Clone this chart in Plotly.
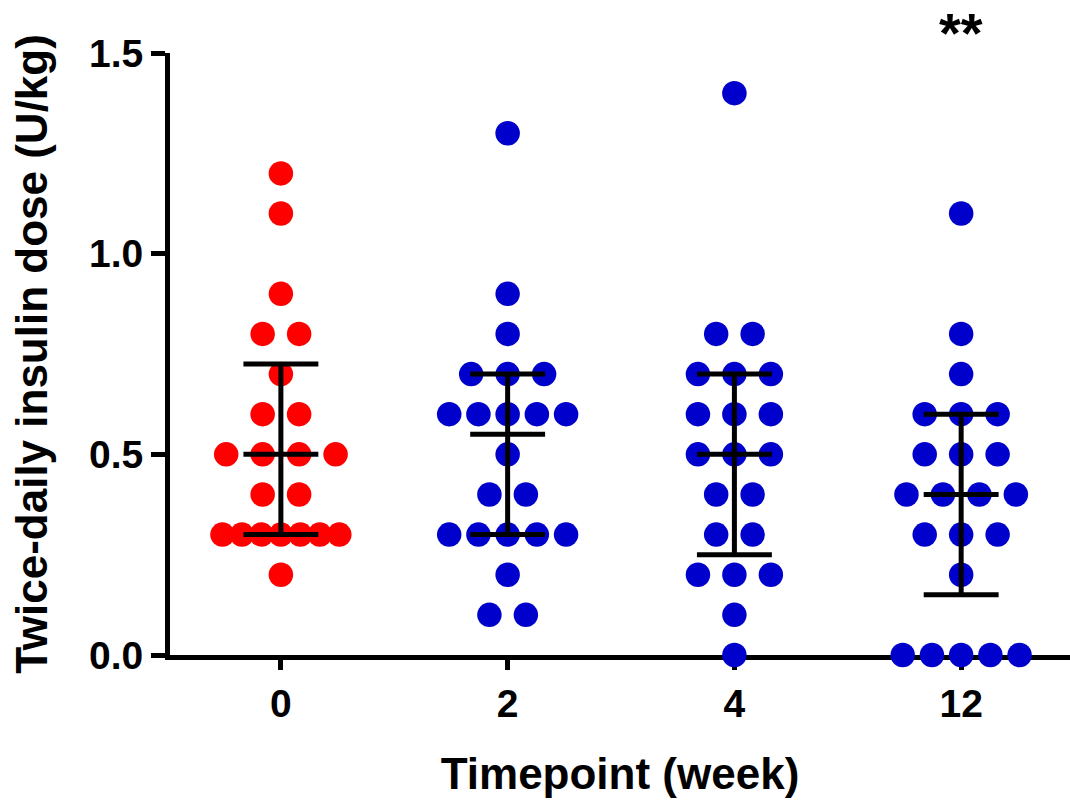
import plotly.graph_objects as go
from collections import Counter

categories = ["0", "2", "4", "12"]
week0 = [1.2, 1.1, 0.9, 0.8, 0.8, 0.7, 0.6, 0.6, 0.5, 0.5, 0.5, 0.5, 0.4, 0.4,
         0.3, 0.3, 0.3, 0.3, 0.3, 0.3, 0.3, 0.2]
week2 = [1.3, 0.9, 0.8, 0.7, 0.7, 0.7, 0.6, 0.6, 0.6, 0.6, 0.6, 0.5, 0.4, 0.4,
         0.3, 0.3, 0.3, 0.3, 0.3, 0.2, 0.1, 0.1]
week4 = [1.4, 0.8, 0.8, 0.7, 0.7, 0.7, 0.6, 0.6, 0.6, 0.5, 0.5, 0.5, 0.4, 0.4,
         0.3, 0.3, 0.2, 0.2, 0.2, 0.1, 0.0]
week12 = [1.1, 0.8, 0.7, 0.6, 0.6, 0.6, 0.5, 0.5, 0.5, 0.4, 0.4, 0.4, 0.4,
          0.3, 0.3, 0.3, 0.2, 0.0, 0.0, 0.0, 0.0, 0.0]
groups = [week0, week2, week4, week12]
medians = [0.5, 0.55, 0.5, 0.4]
upper_q = [0.725, 0.7, 0.7, 0.6]
lower_q = [0.3, 0.3, 0.25, 0.15]
colors = ["#FF0000", "#0000CC", "#0000CC", "#0000CC"]

PX_PER_UNIT = 227.0
fig = go.Figure()

for i, vals in enumerate(groups):
    counts = Counter(vals)
    xs, ys = [], []
    for v, n in counts.items():
        step = 36.5 if n < 2 else min(36.5, 117.0 / (n - 1))
        for k in range(n):
            off = (k - (n - 1) / 2.0) * step / PX_PER_UNIT
            xs.append(i + off)
            ys.append(v)
    fig.add_trace(go.Scatter(x=xs, y=ys, mode="markers", cliponaxis=False,
                             marker=dict(size=24.5, color=colors[i], line=dict(width=0)),
                             showlegend=False, hoverinfo="skip"))

hw = 37.5 / PX_PER_UNIT
for i in range(len(groups)):
    lx = [i - hw, i + hw, None, i - hw, i + hw, None, i - hw, i + hw, None, i, i]
    ly = [upper_q[i], upper_q[i], None, medians[i], medians[i], None,
          lower_q[i], lower_q[i], None, lower_q[i], upper_q[i]]
    fig.add_trace(go.Scatter(x=lx, y=ly, mode="lines", cliponaxis=False,
                             line=dict(color="black", width=5),
                             showlegend=False, hoverinfo="skip"))

fig.add_annotation(x=3, y=1.0, xref="x", yref="paper", yanchor="bottom", yshift=-13,
                   text="**", showarrow=False,
                   font=dict(family="Liberation Sans, Arial", size=56, color="black", weight="bold"))

fig.update_layout(
    width=1070, height=809,
    margin=dict(l=170, r=0, t=53, b=154),
    paper_bgcolor="white", plot_bgcolor="white",
    font=dict(family="Liberation Sans, Arial", color="black", weight="bold"),
    xaxis=dict(range=[-0.489, 3.48], tickmode="array", tickvals=[0, 1, 2, 3],
               ticktext=categories, showgrid=False, zeroline=False,
               showline=True, linecolor="black", linewidth=5, layer="below traces",
               ticks="outside", ticklen=10, tickwidth=5, tickcolor="black",
               tickfont=dict(size=39, weight="bold"),
               title=dict(text="Timepoint (week)", font=dict(size=44, weight="bold"), standoff=36)),
    yaxis=dict(range=[0, 1.5], tickmode="array", tickvals=[0, 0.5, 1.0, 1.5],
               ticktext=["0.0", "0.5", "1.0", "1.5"], showgrid=False, zeroline=False,
               showline=True, linecolor="black", linewidth=5, layer="below traces",
               ticks="outside", ticklen=14, tickwidth=5, tickcolor="black",
               tickfont=dict(size=39, weight="bold"),
               title=dict(text="Twice-daily insulin dose (U/kg)", font=dict(size=44, weight="bold"), standoff=29)),
)

fig.write_html("out.html", config={"displayModeBar": False},
               post_script="document.body.style.margin='0';")
